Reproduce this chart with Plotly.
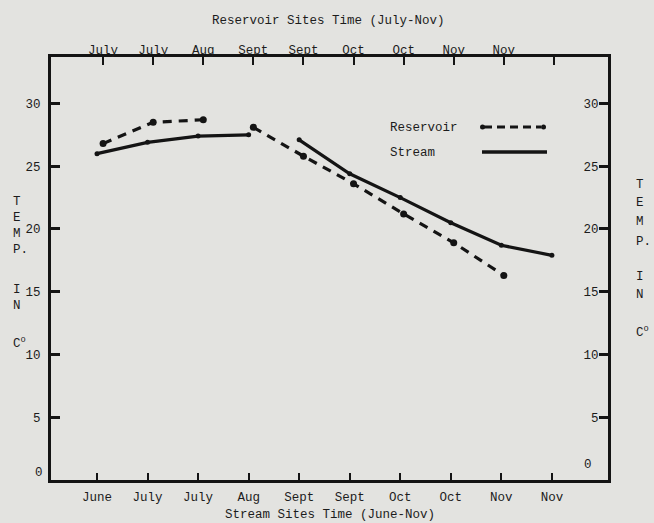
import plotly.graph_objects as go

# ---------------- data ----------------
stream_months = ["June", "July", "July", "Aug", "Sept", "Sept", "Oct", "Oct", "Nov", "Nov"]
reservoir_months = ["July", "July", "Aug", "Sept", "Sept", "Oct", "Oct", "Nov", "Nov", ""]
stream_temp = [26.0, 26.9, 27.4, 27.5, 27.1, 24.4, 22.5, 20.5, 18.7, 17.9]
reservoir_temp = [26.8, 28.5, 28.7, 28.1, 25.8, 23.6, 21.2, 18.9, 16.3]
stream_break = 4      # line is broken between Aug and Sept
reservoir_break = 3   # line is broken between Aug and Sept
temp_ticks = [0, 5, 10, 15, 20, 25, 30]
temp_ticktext = ["", "5", "10", "15", "20", "25", "30"]

# ---------------- style ----------------
FONT = "Liberation Mono"
INK = "#141414"
TXT = "#1c1c1c"
BG = "#e3e3e0"
W, H = 654, 523
L, R, T, B = 51, 608, 57, 480   # plot box in page pixels

fig = go.Figure()

stream_x = list(range(len(stream_temp)))
res_x = list(range(len(reservoir_temp)))

for seg in [(0, stream_break), (stream_break, len(stream_temp))]:
    fig.add_trace(go.Scatter(
        x=stream_x[seg[0]:seg[1]], y=stream_temp[seg[0]:seg[1]],
        mode="lines+markers", xaxis="x", yaxis="y",
        line=dict(color=INK, width=3.2), marker=dict(size=5, color=INK),
        showlegend=False, hoverinfo="skip"))

for seg in [(0, reservoir_break), (reservoir_break, len(reservoir_temp))]:
    fig.add_trace(go.Scatter(
        x=res_x[seg[0]:seg[1]], y=reservoir_temp[seg[0]:seg[1]],
        mode="lines+markers", xaxis="x2", yaxis="y2",
        line=dict(color=INK, width=3.2, dash="9px,7px"),
        marker=dict(size=7, color=INK),
        showlegend=False, hoverinfo="skip"))

def px_x(p):
    return (p - L) / (R - L)

def px_y(p):
    return (B - p) / (B - T)

def txt(text, x, y, xanchor="left", size=12.5):
    return dict(text=text, x=px_x(x), y=px_y(y), xref="paper", yref="paper",
                showarrow=False, xanchor=xanchor, yanchor="middle",
                font=dict(family=FONT, size=size, color=TXT))

ann = []
ann.append(txt("Reservoir Sites Time (July-Nov)", 328, 21, "center"))
ann.append(txt("Stream Sites Time (June-Nov)", 330, 515, "center"))

left_letters = [("T", 202), ("E", 218), ("M", 234), ("P.", 250), ("I", 290), ("N", 306), ("C<sup>o</sup>", 343)]
right_letters = [("T", 185), ("E", 203), ("M", 222), ("P.", 242), ("I", 277), ("N", 295), ("C<sup>o</sup>", 332)]
for t_, yy in left_letters:
    ann.append(txt(t_, 11, yy))
for t_, yy in right_letters:
    ann.append(txt(t_, 634, yy))

# zero labels sit above the bottom corner
ann.append(txt("0", 45, 473, "right"))
ann.append(txt("0", 594, 465, "right"))

# legend (text left, sample right)
ann.append(txt("Reservoir", 388, 128))
ann.append(txt("Stream", 388, 153))

shapes = [
    dict(type="line", xref="paper", yref="paper", x0=px_x(484), x1=px_x(541),
         y0=px_y(127), y1=px_y(127), line=dict(color=INK, width=3.2, dash="8px,5px")),
    dict(type="circle", xref="paper", yref="paper", x0=px_x(480), x1=px_x(485),
         y0=px_y(129.5), y1=px_y(124.5), fillcolor=INK, line=dict(width=0)),
    dict(type="circle", xref="paper", yref="paper", x0=px_x(541), x1=px_x(546),
         y0=px_y(129.5), y1=px_y(124.5), fillcolor=INK, line=dict(width=0)),
    dict(type="line", xref="paper", yref="paper", x0=px_x(482), x1=px_x(547),
         y0=px_y(152), y1=px_y(152), line=dict(color=INK, width=3.4)),
]

axis_common = dict(showline=True, linecolor=INK, linewidth=3, showgrid=False,
                   zeroline=False, ticks="inside", tickcolor=INK,
                   tickfont=dict(family=FONT, size=12.5, color=TXT))

fig.update_layout(
    width=W, height=H,
    margin=dict(l=L, r=W - R, t=T, b=H - B, pad=0),
    paper_bgcolor=BG, plot_bgcolor=BG,
    showlegend=False,
    xaxis=dict(range=[-0.91, 10.11], tickmode="array", tickvals=stream_x,
               ticktext=stream_months, ticklen=7, tickwidth=2.2,
               ticklabelstandoff=3, anchor="y", side="bottom", **axis_common),
    xaxis2=dict(range=[-1.04, 10.08], tickmode="array",
                tickvals=list(range(len(reservoir_months))),
                ticktext=reservoir_months, ticklen=8, tickwidth=2.2,
                ticklabelstandoff=-5,
                overlaying="x", side="top", anchor="y", **axis_common),
    yaxis=dict(range=[0, 33.7], tickmode="array", tickvals=temp_ticks,
               ticktext=temp_ticktext,
               ticklen=9, tickwidth=3, ticklabelstandoff=5, side="left", **axis_common),
    yaxis2=dict(range=[0, 33.7], tickmode="array", tickvals=temp_ticks,
                ticktext=temp_ticktext,
                ticklen=9, tickwidth=3, overlaying="y", side="right", anchor="x",
                ticklabelposition="inside", ticklabeloverflow="allow", **axis_common),
    annotations=ann, shapes=shapes,
)

fig.write_html(
    "out.html",
    config={"displayModeBar": False},
    post_script="document.body.style.margin='0';document.documentElement.style.overflow='hidden';",
)
